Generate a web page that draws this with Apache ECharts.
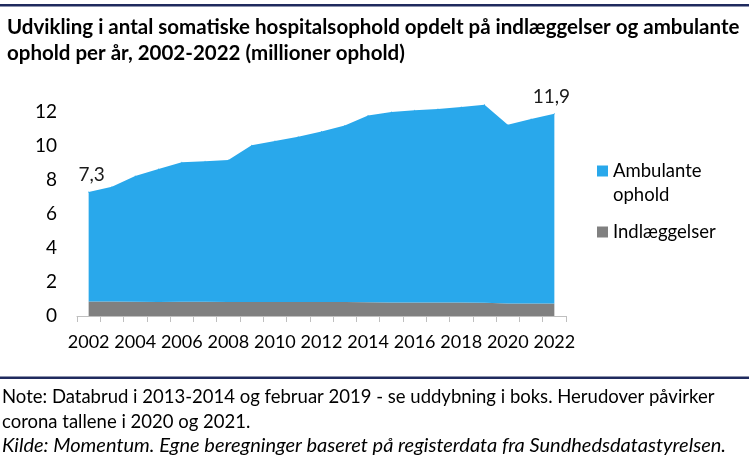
<!DOCTYPE html>
<html>
<head>
<meta charset="utf-8">
<script src="https://cdn.jsdelivr.net/npm/echarts@6/dist/echarts.min.js"></script>
<style>
html,body{margin:0;padding:0;background:#fff;}
#c{width:749px;height:463px;}
</style>
</head>
<body>
<div id="c"></div>
<script>
var years = ['2002','2003','2004','2005','2006','2007','2008','2009','2010','2011','2012','2013','2014','2015','2016','2017','2018','2019','2020','2021','2022'];
var total = [7.3,7.6,8.24,8.65,9.04,9.1,9.18,10.04,10.29,10.55,10.86,11.2,11.8,12.0,12.1,12.18,12.29,12.43,11.25,11.59,11.9];
var indlaeggelser = [0.85,0.86,0.84,0.83,0.84,0.84,0.82,0.83,0.83,0.82,0.82,0.82,0.81,0.80,0.79,0.79,0.79,0.78,0.74,0.73,0.73];
var ambulante = total.map(function(t,i){ return +(t - indlaeggelser[i]).toFixed(2); });
var yTicks = [0,2,4,6,8,10,12];

var FONT = 'Lato, "Open Sans", sans-serif';
var BLUE = '#29A8EB', GREY = '#808080';
var chart = echarts.init(document.getElementById('c'));

var ambData = ambulante.map(function(v,i){
  var item = {value: v};
  if (i === 0 || i === years.length - 1) {
    item.label = {
      show: true,
      position: 'top',
      offset: i === 0 ? [3, -2] : [-3, -2],
      formatter: function(){ return total[i].toFixed(1).replace('.', ','); },
      fontFamily: FONT, fontSize: 19, color: '#1a1a1a'
    };
  }
  return item;
});

chart.setOption({
  animation: false,
  backgroundColor: '#fff',
  title: {
    text: 'Udvikling i antal somatiske hospitalsophold opdelt på indlæggelser og ambulante\nophold per år, 2002-2022 (millioner ophold)',
    left: 2, top: 9,
    textStyle: {fontFamily: FONT, fontWeight: 'bold', fontSize: 20.5, color: '#000', lineHeight: 26}
  },
  graphic: [
    {type: 'rect', shape: {x: 0, y: 4, width: 749, height: 2.5}, style: {fill: '#1F2A5E'}},
    {type: 'rect', shape: {x: 0, y: 376.5, width: 749, height: 2.5}, style: {fill: '#1F2A5E'}},
    {type: 'text', left: 2, top: 385, style: {
      text: 'Note: Databrud i 2013-2014 og februar 2019 - se uddybning i boks. Herudover påvirker\ncorona tallene i 2020 og 2021.',
      fontFamily: FONT, fontSize: 18.5, lineHeight: 24.5, fill: '#000'}},
    {type: 'text', left: 2, top: 434, style: {
      text: 'Kilde: Momentum. Egne beregninger baseret på registerdata fra Sundhedsdatastyrelsen.',
      fontFamily: FONT, fontSize: 20, fontStyle: 'italic', lineHeight: 24, fill: '#000'}}
  ],
  legend: {
    orient: 'vertical',
    left: 592, top: 130,
    itemWidth: 11, itemHeight: 11,
    itemGap: 13,
    icon: 'rect',
    textStyle: {fontFamily: FONT, fontSize: 18.5, color: '#000', lineHeight: 24},
    data: [
      {name: 'Ambulante ophold', itemStyle: {color: BLUE, opacity: 1}},
      {name: 'Indlæggelser', itemStyle: {color: GREY, opacity: 1}}
    ],
    formatter: function(n){ return n === 'Ambulante ophold' ? ' \nAmbulante\nophold' : n; }
  },
  grid: {left: 77, right: 183, top: 78, bottom: 147, containLabel: false},
  xAxis: {
    type: 'category',
    data: years,
    boundaryGap: true,
    axisLine: {lineStyle: {color: '#BFBFBF', width: 1}},
    axisTick: {show: true, interval: 0, length: 6, lineStyle: {color: '#BFBFBF'}},
    axisLabel: {interval: 1, fontFamily: FONT, fontSize: 18, color: '#000', margin: 17}
  },
  yAxis: {
    type: 'value',
    min: 0, max: 14, interval: 2,
    axisLine: {show: false},
    axisTick: {show: false},
    splitLine: {show: false},
    axisLabel: {
      fontFamily: FONT, fontSize: 19, color: '#000', margin: 20,
      formatter: function(v){ return yTicks.indexOf(v) >= 0 ? String(v) : ''; }
    }
  },
  series: [
    {
      name: 'Indlæggelser', type: 'line', stack: 'tot',
      data: indlaeggelser, symbol: 'none',
      lineStyle: {width: 0}, areaStyle: {color: GREY, opacity: 1},
      itemStyle: {color: GREY}
    },
    {
      name: 'Ambulante ophold', type: 'line', stack: 'tot',
      data: ambData, symbol: 'circle', symbolSize: 1, showSymbol: true,
      lineStyle: {width: 0}, areaStyle: {color: BLUE, opacity: 1},
      itemStyle: {color: BLUE, borderWidth: 0}
    }
  ]
});
</script>
</body>
</html>
